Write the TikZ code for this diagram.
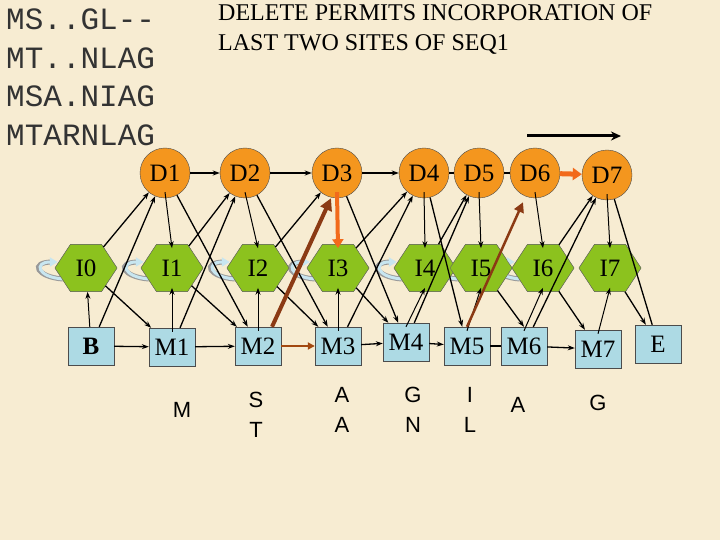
\documentclass[tikz,border=0pt]{standalone}
\usepackage{fontspec}
\setmainfont{Liberation Serif}
\setsansfont{Liberation Sans}
\setmonofont{Liberation Mono}
\usetikzlibrary{shapes.geometric,arrows.meta}
\definecolor{paper}{HTML}{F7ECD2}
\definecolor{dfill}{HTML}{F4961E}
\definecolor{ifill}{HTML}{8CC21E}
\definecolor{mfill}{HTML}{ADDAE4}
\definecolor{brown}{HTML}{8B3A14}
\definecolor{orng}{HTML}{F26A1B}
\definecolor{loopc}{HTML}{C8E6F0}
\begin{document}
\begin{tikzpicture}[x=1pt,y=-1pt,
  dst/.style={circle,draw=black!70,fill=dfill,minimum size=50pt,inner sep=0pt,font=\fontsize{25}{26}\selectfont},
  ist/.style={regular polygon,regular polygon sides=6,shape border rotate=0,draw=black!60,fill=ifill,minimum size=62pt,inner sep=0pt,yscale=0.88},
  itx/.style={font=\fontsize{25}{26}\selectfont,inner sep=0pt},
  mst/.style={rectangle,draw=black!70,fill=mfill,minimum width=46pt,minimum height=38pt,inner sep=0pt,font=\fontsize{25}{26}\selectfont},
  ar/.style={-{Stealth[length=7pt,width=5pt]},line width=1.3pt},
  ln/.style={line width=1.3pt},
  lbl/.style={font=\sffamily\fontsize{22}{30}\selectfont,align=center}]
\fill[paper] (0,0) rectangle (720,540);
\useasboundingbox (0,0) rectangle (720,540);
% text
\node[anchor=north west,align=left,font=\ttfamily\fontsize{31}{38.5}\selectfont,text=black!80,inner sep=0pt] (seq) at (6,9) {MS..GL--\\MT..NLAG\\MSA.NIAG\\MTARNLAG};
\node[anchor=north west,align=left,font=\fontsize{24}{30}\selectfont,inner sep=0pt] (title) at (218,4) {DELETE PERMITS INCORPORATION OF\\LAST TWO SITES OF SEQ1};
% D row
\node[dst] (D1) at (165,173) {D1};
\node[dst] (D2) at (245,173) {D2};
\node[dst] (D3) at (337,173) {D3};
\node[dst] (D4) at (424,173) {D4};
\node[dst] (D5) at (479,173) {D5};
\node[dst] (D6) at (535,173) {D6};
\node[dst] (D7) at (607,175) {D7};
% I row
\foreach \n/\x in {0/86,1/172,2/258,3/338,4/425,5/481,6/543,7/610}
  \node[ist] (I\n) at (\x,268) {};
% self loops
\foreach \n in {0,1,2,3,4,5,6}{
  \draw[line width=5pt,draw=black!40] ([xshift=8pt,yshift=-11pt]I\n.west) .. controls +(-26,-2) and +(-24,0) .. ([xshift=-2pt,yshift=6pt]I\n.west);
  \draw[line width=3pt,draw=loopc,-{Triangle[length=8pt,width=9pt]}] ([xshift=8pt,yshift=-11pt]I\n.west) .. controls +(-26,-2) and +(-24,0) .. ([xshift=3pt,yshift=6pt]I\n.west);
}
\foreach \n in {0,...,7} \node[ist] (J\n) at (I\n) {};
\foreach \n in {0,...,7} \node[itx] (u\n) at (I\n) {I\n};
% M row
\node[mst,font=\bfseries\fontsize{25}{26}\selectfont] (B) at (91,346) {B};
\node[mst] (M1) at (172,347) {M1};
\node[mst] (M2) at (258,346) {M2};
\node[mst] (M3) at (338,346) {M3};
\node[mst] (M4) at (406,342) {M4};
\node[mst] (M5) at (467,346) {M5};
\node[mst] (M6) at (524,346) {M6};
\node[mst] (M7) at (598,349) {M7};
\node[mst] (E) at (658,344) {E};
% bottom letters
\node[lbl] (l1) at (182,410) {M};
\node[lbl] (l2) at (256,415) {S\\T};
\node[lbl] (l3) at (342,410) {A\\A};
\node[lbl] (l4) at (413,410) {G\\N};
\node[lbl] (l5) at (470,410) {I\\L};
\node[lbl] (l6) at (518,405) {A};
\node[lbl] (l7) at (598,403) {G};
% D horizontal
\draw[ar] (D1) -- (D2);
\draw[ar] (D2) -- (D3);
\draw[ar] (D3) -- (D4);
\draw[ln] (D4) -- (D5);
\draw[ln] (D5) -- (D6);
\draw[-{Triangle[length=9pt,width=12pt]},line width=5pt,orng] (D6) -- (D7);
% M horizontal
\draw[ar] (B) -- (M1);
\draw[ar] (M1) -- (M2);
\draw[-{Triangle[length=7pt,width=7pt]},line width=2.5pt,brown!80!orange] (M2) -- (M3);
\draw[ar] (M3) -- (M4);
\draw[ar] (M4) -- (M5);
\draw[ln] (M5) -- (M6);
\draw[ar] (M6) -- (M7);
% D -> I vertical
\foreach \n in {1,2,4,5,6,7}
  \draw[ar,line width=1pt] ([yshift=6pt]D\n.south) -- ([yshift=-4pt]I\n.north);
\draw[-{Triangle[length=9pt,width=11pt]},line width=4pt,orng] ([yshift=6pt]D3.south) -- ([yshift=-4pt]I3.north);
% M -> I vertical
\draw[ar,line width=1pt] (B) -- (I0);
\foreach \n in {1,...,7}
  \draw[ar,line width=1pt] ([yshift=-4pt]M\n.north) -- ([yshift=4pt]I\n.south);
% D -> M diagonals
\draw[ar] (D1) -- (M2);
\draw[ar] (D2) -- (M3);
\draw[ar] (D3) -- (M4);
\draw[ar] (D4) -- (M5);
% I -> D
\draw[ar] (I0) -- (D1);
\draw[ar] (I1) -- (D2);
\draw[ar] (I2) -- (D3);
\draw[ar] (I3) -- (D4);
\draw[ar] (I4) -- (D5);
\draw[ar] (I6) -- (D7);
% M -> D
\draw[ar] (B) -- (D1);
\draw[ar] (M1) -- (D2);
\draw[ar] (M3) -- (D4);
\draw[ar] (M4) -- (D5);
\draw[ar] (M6) -- (D7);
% I -> M
\draw[ar] (I0) -- (M1);
\draw[ar] (I1) -- (M2);
\draw[ar] (I2) -- (M3);
\draw[ar] (I3) -- (M4);
\draw[ar] (I5) -- (M6.north);
\draw[ar] (I6) -- (M7);
\draw[ar] (I7) -- (E);
\draw[ln] (D7) -- (E);
% brown thick arrows
\draw[-{Triangle[length=12pt,width=12pt]},line width=4pt,brown] ([xshift=14pt]M2.north) -- ([xshift=-6pt]D3.south);
\draw[-{Triangle[length=10pt,width=10pt]},line width=2.5pt,brown] (M5.north) -- ([xshift=-12pt,yshift=-4pt]D6.south);
% top arrow
\coordinate (a1) at (527,136);
\coordinate (a2) at (621,136);
\draw[-{Stealth[length=10pt,width=9pt]},line width=3pt] (a1) -- (a2);
\end{tikzpicture}
\end{document}
